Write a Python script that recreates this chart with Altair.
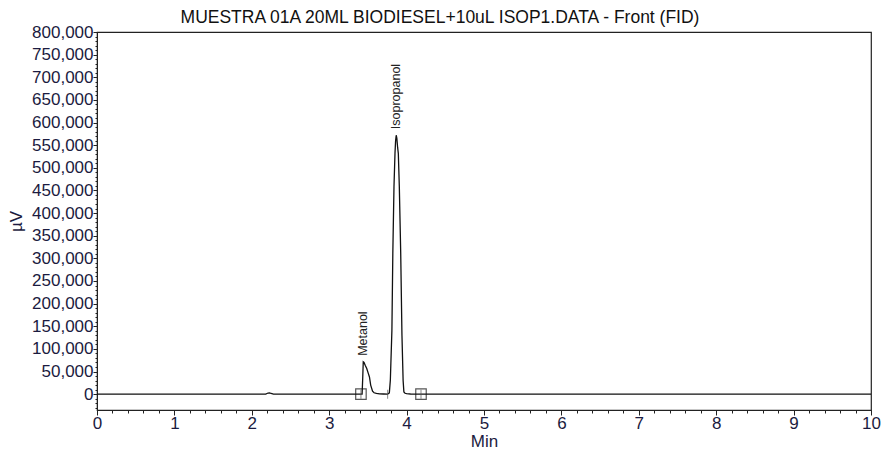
import altair as alt
import pandas as pd

# Chromatogram trace (time in minutes, signal in µV)
time_min = [0.0, 1.90, 2.18, 2.21, 2.23, 2.25, 2.28, 3.41, 3.425, 3.433, 3.44, 3.45,
            3.465, 3.485, 3.505, 3.52, 3.536, 3.56, 3.58, 3.61, 3.65, 3.70, 3.755,
            3.777, 3.79, 3.81, 3.822, 3.837, 3.85, 3.858, 3.866, 3.874, 3.884, 3.893,
            3.906, 3.924, 3.94, 3.955, 3.965, 3.98, 4.0, 4.05, 4.186, 10.0]
signal_uv = [0, 0, 0, 2500, 3000, 1500, 0, 0, 0, 35000, 71400, 70000,
             64000, 56800, 46000, 38000, 20000, 6600, 3000, 1500, 700, 300, 0,
             3000, 31000, 140000, 311000, 458000, 532000, 560000, 572000, 565000, 545000, 532000,
             458000, 311000, 130000, 30000, 5000, 2000, 1000, 300, 0, 0]

# Peak labels
peak_names = ["Metanol", "Isopropanol"]
peak_times = [3.44, 3.866]
peak_heights = [71400, 572000]

# Integration markers (baseline start/end) and drop line
marker_times = [3.41, 4.186]
drop_times = [3.41, 3.755, 4.186]

x_ticks = [0, 0.2, 0.4, 0.6, 0.8, 1, 1.2, 1.4, 1.6, 1.8, 2, 2.2, 2.4, 2.6, 2.8, 3,
           3.2, 3.4, 3.6, 3.8, 4, 4.2, 4.4, 4.6, 4.8, 5, 5.2, 5.4, 5.6, 5.8, 6,
           6.2, 6.4, 6.6, 6.8, 7, 7.2, 7.4, 7.6, 7.8, 8, 8.2, 8.4, 8.6, 8.8, 9,
           9.2, 9.4, 9.6, 9.8, 10]
y_ticks = list(range(-30000, 800001, 10000))

trace = pd.DataFrame({"t": time_min, "v": signal_uv})
peaks = pd.DataFrame({"name": peak_names, "t": peak_times, "v": peak_heights})
markers = pd.DataFrame({"t": marker_times, "v": [0] * len(marker_times)})
drops = pd.DataFrame({"t": drop_times, "v": [0] * len(drop_times)})

FONT = "Liberation Sans"
LABEL_COLOR = "#1b1b40"

x_scale = alt.Scale(domain=[0, 10], nice=False, zero=False)
y_scale = alt.Scale(domain=[-35000, 800000], nice=False, zero=False)

x_axis = alt.Axis(
    values=x_ticks,
    labelExpr="abs(datum.value - round(datum.value)) < 0.001 ? format(datum.value, 'd') : ''",
    tickSize={"condition": {"test": "abs(datum.value - round(datum.value)) < 0.001", "value": 5}, "value": 3},
    labelOverlap=False, labelFlush=False, labelBound=False,
    labelFont=FONT, labelFontSize=17, labelColor=LABEL_COLOR, labelPadding=0,
    titleFont=FONT, titleFontSize=17, titleFontWeight="normal", titleColor=LABEL_COLOR,
    titlePadding=2, grid=False, domainColor="#222222", tickColor="#222222",
)
y_axis = alt.Axis(
    values=y_ticks,
    labelExpr="datum.value >= 0 && datum.value % 50000 == 0 ? format(datum.value, ',') : ''",
    tickSize={"condition": {"test": "datum.value % 50000 == 0", "value": 4}, "value": 2},
    labelOverlap=False, labelFlush=False, labelBound=False,
    labelFont=FONT, labelFontSize=17, labelColor=LABEL_COLOR, labelPadding=0,
    titleFont=FONT, titleFontSize=17, titleFontWeight="normal", titleColor=LABEL_COLOR,
    titlePadding=6, grid=False, domainColor="#222222", tickColor="#222222",
)

X = alt.X("t:Q", scale=x_scale, axis=x_axis, title="Min")
Y = alt.Y("v:Q", scale=y_scale, axis=y_axis, title="µV")

line = alt.Chart(trace).mark_line(color="#111111", strokeWidth=1.3, interpolate="linear").encode(
    x=X, y=Y,
)

squares = alt.Chart(markers).mark_square(filled=False, size=110, color="#111111", strokeWidth=1.2).encode(
    x=X, y=Y,
)

ticks = alt.Chart(drops).mark_tick(orient="vertical", size=9, thickness=1, color="#555555").encode(
    x=X, y=Y,
)

labels = alt.Chart(peaks).mark_text(
    angle=270, align="left", baseline="middle", dx=6, font=FONT, fontSize=12.5, color="#222222"
).encode(
    x=X, y=Y,
    text="name:N",
)

chart = alt.layer(line, ticks, squares, labels).properties(
    width=774,
    height=378,
    autosize="none",
    padding={"left": 97, "top": 32, "right": 10, "bottom": 42},
    title=alt.TitleParams(
        "MUESTRA 01A 20ML BIODIESEL+10uL ISOP1.DATA - Front (FID)",
        font=FONT, fontSize=17.5, fontWeight="normal", color="#111111",
        anchor="middle", dx=-44, dy=10, offset=7,
    ),
).configure(background="white").configure_view(stroke="#222222", strokeWidth=1.2)

chart.save("out.html", embed_options={"renderer": "svg", "actions": False})
